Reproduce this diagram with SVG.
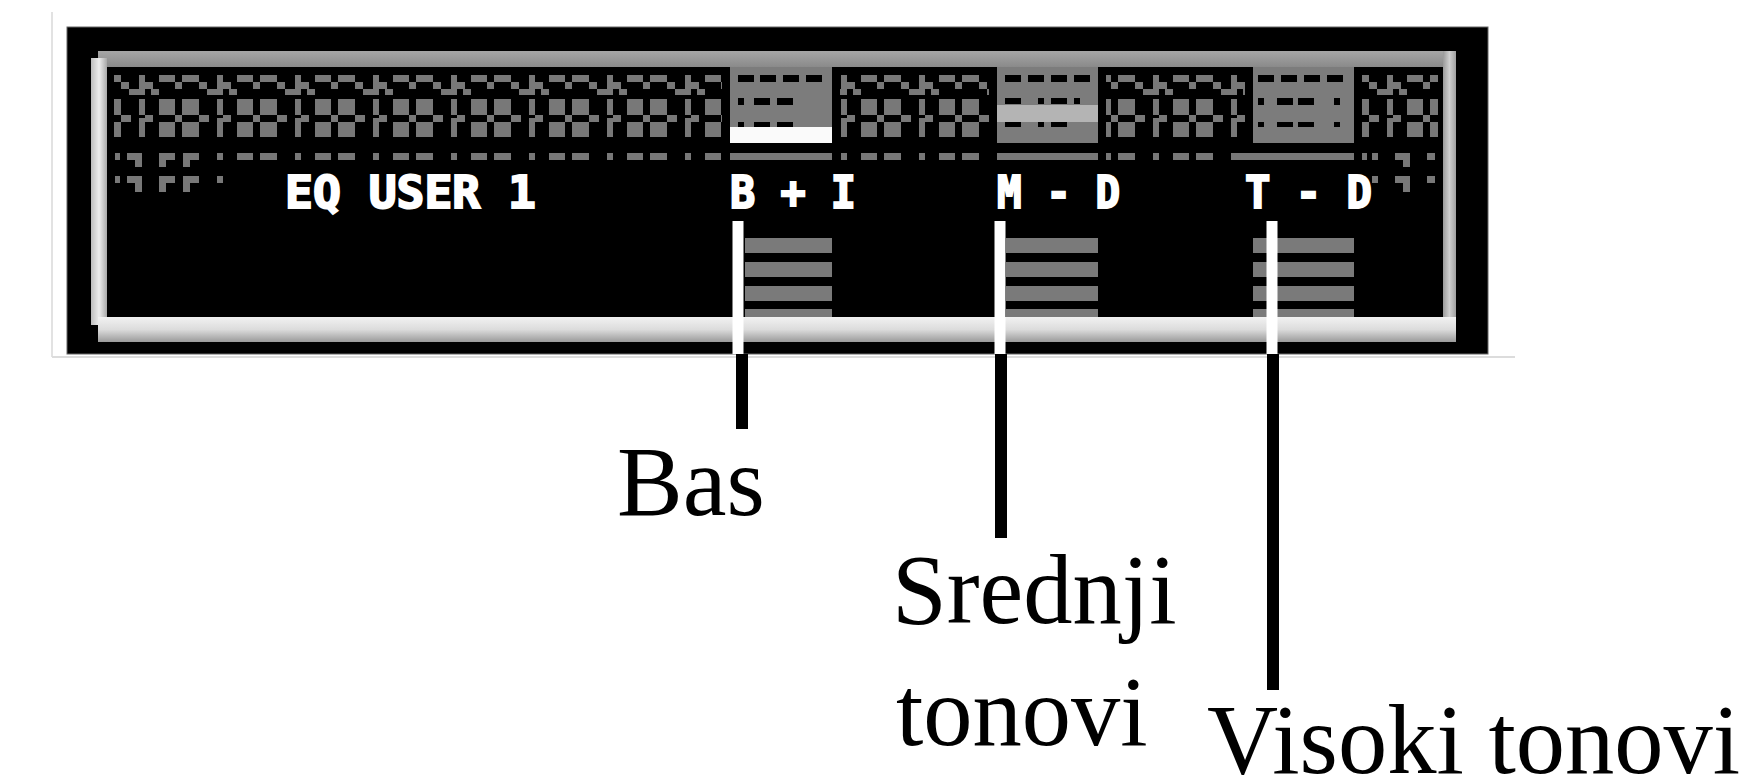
<svg xmlns="http://www.w3.org/2000/svg" width="1759" height="782" viewBox="0 0 1759 782">
<style>
.px{font-family:"DejaVu Sans Mono","Liberation Mono",monospace;font-weight:bold;font-size:44px;fill:#fff;stroke:#fff;stroke-width:2}
.lbl{font-family:"Liberation Serif","Times New Roman",serif;font-size:98.5px;fill:#000}
.g{fill:#787878}
.hl{fill:#7c7c7c}
.bar{fill:#7a7a7a}
.k{fill:#000}
.wline{stroke:#fff;stroke-width:11;fill:none}
.bline{stroke:#000;stroke-width:12;fill:none}
</style>
<defs>
<pattern id="tex" x="217" y="75" width="78" height="62" patternUnits="userSpaceOnUse">
<g fill="#787878">
<rect x="0" y="0" width="6" height="20"/><rect x="0" y="24" width="6" height="16"/><rect x="0" y="43" width="6" height="19"/>
<rect x="20" y="0" width="16" height="7"/><rect x="20" y="24" width="16" height="16"/><rect x="20" y="47" width="16" height="15"/>
<rect x="43" y="0" width="17" height="7"/><rect x="43" y="24" width="17" height="16"/><rect x="43" y="47" width="17" height="15"/>
<rect x="6" y="7" width="8" height="7"/><rect x="12" y="14" width="8" height="6"/>
<rect x="36" y="7" width="7" height="7"/><rect x="60" y="7" width="8" height="7"/><rect x="68" y="14" width="10" height="6"/>
<rect x="36" y="40" width="7" height="7"/><rect x="6" y="40" width="8" height="7"/><rect x="60" y="40" width="10" height="7"/>
</g>
</pattern>
<pattern id="dash" x="217" y="153" width="78" height="7" patternUnits="userSpaceOnUse">
<rect x="0" y="0" width="6" height="7" fill="#787878"/>
<rect x="20" y="0" width="16" height="7" fill="#787878"/>
<rect x="43" y="0" width="17" height="7" fill="#787878"/>
</pattern>
<linearGradient id="gTop" x1="0" y1="0" x2="0" y2="1"><stop offset="0" stop-color="#a6a6a6"/><stop offset="1" stop-color="#8a8a8a"/></linearGradient>
<linearGradient id="gBot" x1="0" y1="0" x2="0" y2="1"><stop offset="0" stop-color="#f2f2f2"/><stop offset="0.5" stop-color="#dcdcdc"/><stop offset="1" stop-color="#9a9a9a"/></linearGradient>
<linearGradient id="gLeft" x1="0" y1="0" x2="1" y2="0"><stop offset="0" stop-color="#bdbdbd"/><stop offset="0.5" stop-color="#ededed"/><stop offset="1" stop-color="#a8a8a8"/></linearGradient>
<linearGradient id="gRight" x1="0" y1="0" x2="1" y2="0"><stop offset="0" stop-color="#9a9a9a"/><stop offset="0.5" stop-color="#cfcfcf"/><stop offset="1" stop-color="#a0a0a0"/></linearGradient>
</defs>
<rect width="1759" height="782" fill="#fff"/>
<line x1="52" y1="12" x2="52" y2="357" stroke="#e2e2e2" stroke-width="2"/>
<line x1="52" y1="357" x2="1515" y2="357" stroke="#dcdcdc" stroke-width="2"/>

<g id="display">
<rect x="67" y="27" width="1421" height="327" fill="#000" stroke="#666" stroke-width="1"/>
<rect x="98" y="51" width="1358" height="16" fill="url(#gTop)"/>
<rect x="91" y="58" width="16" height="267" fill="url(#gLeft)"/>
<rect x="1443" y="51" width="13" height="291" fill="url(#gRight)"/>
<rect x="98" y="317" width="1358" height="25" fill="url(#gBot)"/>
</g>

<g id="pattern">
<rect x="114" y="75" width="1324" height="62" fill="url(#tex)"/>
<rect x="217" y="153" width="1150" height="7" fill="url(#dash)"/>
<rect class="g" x="115" y="153" width="5" height="7"/>
<rect class="g" x="127" y="153" width="15" height="7"/><rect class="g" x="135" y="160" width="7" height="7"/>
<rect class="g" x="159" y="153" width="16" height="7"/><rect class="g" x="159" y="160" width="7" height="7"/>
<rect class="g" x="183" y="153" width="16" height="7"/><rect class="g" x="183" y="160" width="7" height="7"/>
<rect class="g" x="115" y="176" width="5" height="7"/>
<rect class="g" x="127" y="176" width="15" height="7"/><rect class="g" x="135" y="183" width="7" height="9"/>
<rect class="g" x="159" y="176" width="16" height="7"/><rect class="g" x="159" y="183" width="7" height="9"/>
<rect class="g" x="183" y="176" width="16" height="7"/><rect class="g" x="183" y="183" width="7" height="9"/>
<rect class="g" x="217" y="176" width="6" height="7"/>
<rect class="g" x="1372" y="153" width="6" height="7"/>
<rect class="g" x="1395" y="153" width="15" height="7"/><rect class="g" x="1403" y="160" width="7" height="7"/>
<rect class="g" x="1427" y="153" width="8" height="7"/>
<rect class="g" x="1372" y="176" width="6" height="7"/>
<rect class="g" x="1395" y="176" width="15" height="7"/><rect class="g" x="1403" y="183" width="7" height="9"/>
<rect class="g" x="1427" y="176" width="8" height="7"/>
</g>

<g id="col-bass">
<rect class="k" x="722" y="67" width="118" height="93"/>
<rect class="hl" x="730" y="67" width="102" height="76"/>
<rect class="k" x="738" y="75" width="16" height="7"/><rect class="k" x="760" y="75" width="16" height="7"/><rect class="k" x="783" y="75" width="16" height="7"/><rect class="k" x="806" y="75" width="16" height="7"/>
<rect class="k" x="738" y="98" width="6" height="7"/><rect class="k" x="754" y="98" width="16" height="7"/><rect class="k" x="777" y="98" width="16" height="7"/>
<rect class="k" x="738" y="122" width="6" height="5"/><rect class="k" x="754" y="122" width="16" height="5"/><rect class="k" x="777" y="122" width="16" height="5"/>
<rect x="730" y="127" width="102" height="16" fill="#fafafa"/>
<rect class="g" x="730" y="153" width="102" height="7"/>
<text class="px" x="730" y="208" textLength="126" lengthAdjust="spacingAndGlyphs">B + I</text>
<rect class="bar" x="745" y="238" width="87" height="15"/>
<rect class="bar" x="745" y="262" width="87" height="15"/>
<rect class="bar" x="745" y="286" width="87" height="15"/>
<rect class="bar" x="745" y="309" width="87" height="8"/>
</g>

<g id="col-mid">
<rect class="k" x="989" y="67" width="117" height="93"/>
<rect class="hl" x="997" y="67" width="101" height="76"/>
<rect x="997" y="105" width="101" height="17" fill="#b4b4b4"/>
<rect class="k" x="1005" y="75" width="16" height="7"/><rect class="k" x="1028" y="75" width="16" height="7"/><rect class="k" x="1051" y="75" width="16" height="7"/><rect class="k" x="1074" y="75" width="16" height="7"/>
<rect class="k" x="1005" y="98" width="16" height="6"/><rect class="k" x="1038" y="98" width="6" height="6"/><rect class="k" x="1051" y="98" width="16" height="6"/><rect class="k" x="1074" y="98" width="6" height="6"/>
<rect class="k" x="1005" y="122" width="16" height="5"/><rect class="k" x="1038" y="122" width="6" height="5"/><rect class="k" x="1051" y="122" width="16" height="5"/>
<rect class="g" x="997" y="153" width="101" height="7"/>
<text class="px" x="997" y="208" textLength="123" lengthAdjust="spacingAndGlyphs">M - D</text>
<rect class="bar" x="1006" y="238" width="92" height="15"/>
<rect class="bar" x="1006" y="262" width="92" height="15"/>
<rect class="bar" x="1006" y="286" width="92" height="15"/>
<rect class="bar" x="1006" y="309" width="92" height="8"/>
</g>

<g id="col-treble">
<rect class="k" x="1245" y="67" width="117" height="93"/>
<rect class="hl" x="1253" y="67" width="101" height="76"/>
<rect class="k" x="1258" y="75" width="16" height="7"/><rect class="k" x="1281" y="75" width="16" height="7"/><rect class="k" x="1304" y="75" width="16" height="7"/><rect class="k" x="1327" y="75" width="16" height="7"/>
<rect class="k" x="1258" y="98" width="6" height="7"/><rect class="k" x="1277" y="98" width="16" height="7"/><rect class="k" x="1298" y="98" width="16" height="7"/><rect class="k" x="1334" y="98" width="6" height="7"/>
<rect class="k" x="1258" y="122" width="6" height="5"/><rect class="k" x="1277" y="122" width="16" height="5"/><rect class="k" x="1298" y="122" width="16" height="5"/><rect class="k" x="1334" y="122" width="6" height="5"/>
<rect class="g" x="1237" y="153" width="117" height="7"/>
<text class="px" x="1245" y="208" textLength="127" lengthAdjust="spacingAndGlyphs">T - D</text>
<rect class="bar" x="1253" y="238" width="101" height="15"/>
<rect class="bar" x="1253" y="262" width="101" height="15"/>
<rect class="bar" x="1253" y="286" width="101" height="15"/>
<rect class="bar" x="1253" y="309" width="101" height="8"/>
</g>

<g id="title">
<text class="px" x="285" y="208" textLength="251" lengthAdjust="spacingAndGlyphs">EQ USER 1</text>
</g>

<g id="connectors">
<path class="wline" d="M738 221V354"/>
<path class="bline" d="M742 354V429"/>
<path class="wline" d="M1000 221V354"/>
<path class="bline" d="M1001 354V538"/>
<path class="wline" d="M1272 221V354"/>
<path class="bline" d="M1273 354V690"/>
</g>

<g id="label-bas"><text class="lbl" x="617" y="515">Bas</text></g>
<g id="label-srednji"><text class="lbl" x="892" y="623">Srednji</text><text class="lbl" x="896" y="745">tonovi</text></g>
<g id="label-visoki"><text class="lbl" x="1207" y="773">Visoki tonovi</text></g>
</svg>
